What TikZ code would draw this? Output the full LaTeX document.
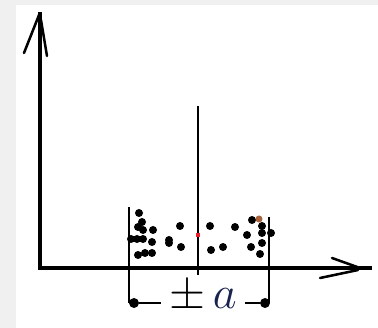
\documentclass[tikz,border=0pt]{standalone}
\usetikzlibrary{positioning}
\definecolor{Ink}{RGB}{0,0,0}
\definecolor{Frame}{RGB}{240,240,240}
\definecolor{MarkRed}{RGB}{230,30,40}
\definecolor{MarkBrown}{RGB}{170,100,60}
\definecolor{LetterNavy}{RGB}{25,35,80}
\tikzset{
  axis/.style={line width=2.3pt,draw=Ink},
  barb/.style={line width=1.9pt,draw=Ink,line cap=round},
  limit/.style={line width=1.4pt,draw=Ink},
  centre/.style={line width=1pt,draw=Ink},
  dimline/.style={line width=1.2pt,draw=Ink},
  enddot/.style={circle,fill=Ink,inner sep=0pt,minimum size=7.5pt},
  tol/.style={font=\Huge,scale=1.4,inner xsep=4pt,inner ysep=0pt,anchor=base}
}
\begin{document}
\begin{tikzpicture}[x=0.02646cm,y=0.02646cm]
  \fill[Frame] (0,0) rectangle (378,328);
  \fill[white] (16,0) rectangle (378,323);
  \useasboundingbox (0,0) rectangle (378,328);
  % axes
  \coordinate (O) at (40,60);
  \coordinate (ytip) at (40,316);
  \coordinate (xtip) at (372,60);
  \draw[axis] (ytip) -- (O) -- (xtip);
  \draw[barb] (24,275) -- (39,313);
  \draw[barb] (41,308) -- (47,272);
  \draw[barb] (332,70) -- (360,60);
  \draw[barb] (320,50) -- (358,58);
  % centre line and limits
  \coordinate (ctop) at (198,222);
  \coordinate (cbot) at (198,53);
  \draw[centre] (ctop) -- (cbot);
  \node[enddot] (dl) at (134,25) {};
  \node[enddot] (dr) at (265,25) {};
  \coordinate (ltop) at (129,121);
  \coordinate (rtop) at (269,111);
  \draw[limit] (ltop) -- (ltop|-dl);
  \draw[limit] (rtop) -- (rtop|-dr);
  % scatter
  \foreach \x/\y in {139/115,142/106,138/101,143/98,153/98,131/89,137/89,143/89,152/86,
                     138/73,145/75,152/75,180/102,169/88,169/85,181/81,210/102,211/78,
                     223/81,235/101,247/93,252/108,262/95,262/85,260/74,251/81,262/102,271/95}
    \fill[Ink] (\x,\y) circle (4);
  \fill[MarkBrown] (259,109) circle (3.5);
  \fill[MarkRed] (195.5,90.5) rectangle (199.5,94.5);
  % tolerance
  \node[tol] (pm) at (203,19) {$\pm\,\textcolor{LetterNavy}{a}$};
  \draw[dimline] (dl) -- (pm.west|-dl);
  \draw[dimline] (pm.east|-dr) -- (dr);
\end{tikzpicture}
\end{document}
